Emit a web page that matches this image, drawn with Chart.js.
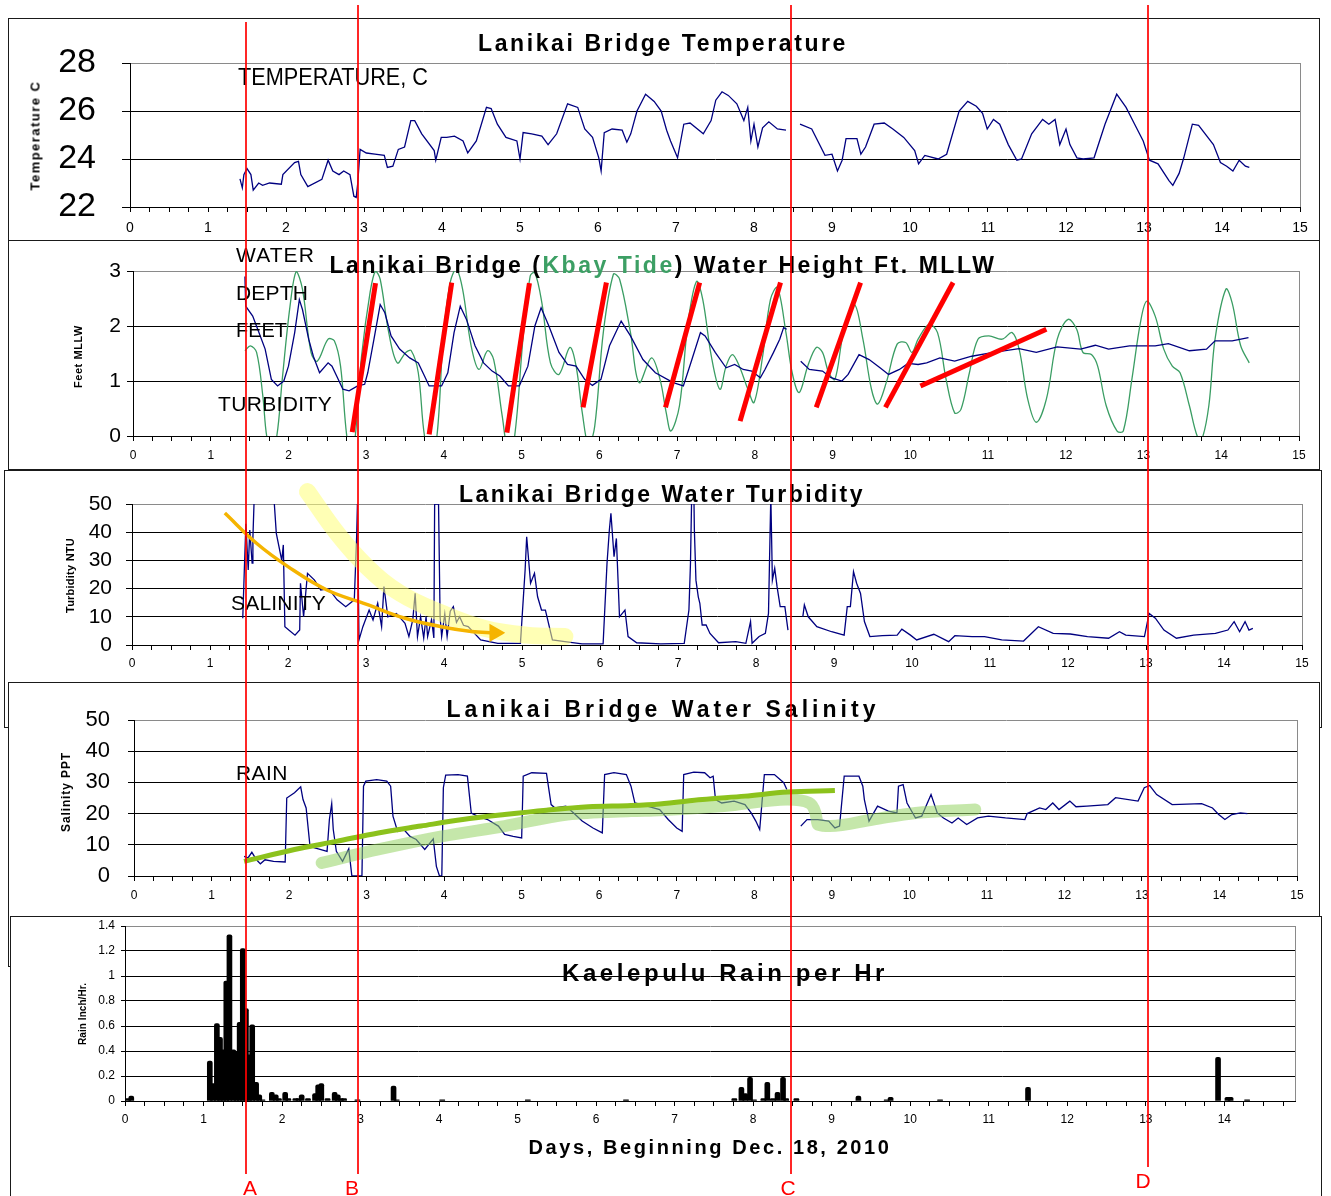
<!DOCTYPE html>
<html>
<head>
<meta charset="utf-8">
<title>Lanikai Bridge</title>
<script src="https://cdn.jsdelivr.net/npm/chart.js@4.4.1/dist/chart.umd.min.js"></script>
<style>
  html, body { margin: 0; padding: 0; background: #fff; }
  #page { position: relative; width: 1331px; height: 1196px; overflow: hidden; }
  .frame { position: absolute; border: 1px solid #1a1a1a; box-sizing: border-box; background: #fff; }
  canvas { position: absolute; left: 0; }
  .txt { position: absolute; white-space: nowrap; }
  .mark { position: absolute; width: 2px; background: rgba(255, 0, 0, 0.85); }
</style>
</head>
<body>
<div id="page"></div>
<script>
// ---- tick labels ----
const dayTicks = [0, 1, 2, 3, 4, 5, 6, 7, 8, 9, 10, 11, 12, 13, 14, 15];
const tempTicks = [22, 24, 26, 28];
const depthTicks = [0, 1, 2, 3];
const turbTicks = [0, 10, 20, 30, 40, 50];
const salTicks = [0, 10, 20, 30, 40, 50];
const rainTicks = [0, 0.2, 0.4, 0.6, 0.8, 1, 1.2, 1.4];

// ---- series: [day, value] ----
const tempSeries = [
  [1.41,23.17],[1.44,22.8],[1.46,23.35],[1.50,23.6],[1.55,23.35],[1.58,22.7],[1.65,23.0],[1.70,22.9],[1.79,23.0],[1.94,22.95],
  [1.96,23.35],[2.11,23.85],[2.16,23.9],[2.19,23.35],[2.28,22.85],[2.46,23.15],[2.54,23.95],[2.60,23.5],[2.68,23.35],[2.74,23.5],
  [2.82,23.35],[2.87,22.45],[2.90,22.4],[2.92,23.0],[2.95,24.4],[3.03,24.25],[3.14,24.2],[3.26,24.15],[3.30,23.65],[3.37,23.7],
  [3.44,24.4],[3.52,24.5],[3.60,25.6],[3.65,25.6],[3.74,25.05],[3.90,24.35],[3.92,23.95],[3.99,24.9],[4.06,24.9],[4.16,24.95],
  [4.27,24.75],[4.33,24.25],[4.44,24.75],[4.57,26.15],[4.63,26.1],[4.71,25.45],[4.82,24.9],[4.96,24.75],[5.00,24.0],[5.04,25.1],
  [5.15,25.05],[5.28,24.95],[5.36,24.6],[5.47,25.05],[5.61,26.3],[5.74,26.15],[5.83,25.25],[5.93,24.9],[6.01,24.05],[6.04,23.5],
  [6.08,25.1],[6.18,25.25],[6.31,25.2],[6.37,24.7],[6.42,25.05],[6.50,26.0],[6.61,26.7],[6.72,26.4],[6.81,26.0],
  [6.88,25.2],[6.93,24.75],[7.02,24.05],[7.06,24.75],[7.10,25.45],[7.18,25.5],[7.35,25.05],[7.45,25.6],[7.51,26.45],[7.59,26.8],
  [7.67,26.65],[7.78,26.3],[7.87,25.6],[7.92,26.15],[7.96,24.75],[8.00,25.45],[8.05,24.5],[8.11,25.3],[8.19,25.55],[8.30,25.25],
  [8.41,25.2],[8.50,null],[8.59,25.45],[8.74,25.25],[8.91,24.15],[9.00,24.2],[9.07,23.5],[9.13,23.95],[9.18,24.85],[9.32,24.85],
  [9.37,24.2],[9.43,24.5],[9.54,25.45],[9.67,25.5],[9.78,25.25],[9.92,24.9],[10.06,24.35],[10.11,23.8],[10.19,24.15],[10.36,24.0],
  [10.47,24.2],[10.63,26.0],[10.74,26.4],[10.85,26.2],[10.93,25.9],[10.99,25.25],[11.07,25.65],[11.15,25.45],[11.26,24.6],[11.37,23.95],
  [11.43,24.0],[11.56,25.05],[11.70,25.65],[11.78,25.45],[11.86,25.65],[11.92,24.6],[12.00,25.25],[12.05,24.6],[12.14,24.05],[12.22,24.0],
  [12.36,24.05],[12.50,25.45],[12.65,26.7],[12.77,26.15],[12.88,25.45],[12.99,24.75],[13.07,23.95],[13.18,23.8],[13.32,23.1],[13.37,22.9],
  [13.45,23.4],[13.51,24.05],[13.62,25.45],[13.70,25.4],[13.89,24.6],[13.98,23.85],[14.06,23.7],[14.14,23.5],[14.22,23.95],[14.30,23.7],[14.35,23.65]
];

const depthSeries = [
  [1.44,2.9],[1.45,2.36],[1.54,2.18],[1.62,1.88],[1.70,1.58],[1.78,1.03],[1.86,0.91],[1.94,1.0],[2.00,1.27],[2.08,1.88],
  [2.14,2.48],[2.18,2.30],[2.26,1.76],[2.32,1.45],[2.40,1.15],[2.51,1.33],[2.56,1.27],[2.62,1.09],[2.70,0.85],[2.78,0.82],
  [2.89,0.91],[2.98,0.94],[3.02,1.15],[3.10,1.76],[3.18,2.39],[3.24,2.24],[3.32,1.82],[3.43,1.58],[3.56,1.42],[3.67,1.33],
  [3.75,1.09],[3.81,0.91],[3.97,0.91],[4.05,1.15],[4.13,1.88],[4.21,2.36],[4.29,2.12],[4.40,1.64],[4.51,1.33],[4.62,1.18],
  [4.72,1.09],[4.83,0.91],[4.97,0.91],[5.08,1.27],[5.17,2.0],[5.25,2.33],[5.35,2.0],[5.48,1.52],[5.59,1.30],[5.70,1.27],
  [5.81,1.03],[5.91,0.92],[6.02,1.03],[6.13,1.64],[6.28,2.09],[6.40,1.82],[6.56,1.39],[6.72,1.15],[6.95,0.97],[7.08,0.91],
  [7.19,1.39],[7.30,1.88],[7.36,1.82],[7.49,1.52],[7.63,1.24],[7.74,1.30],[7.85,1.21],[7.96,1.18],[8.07,1.06],[8.13,1.21],
  [8.24,1.52],[8.32,1.76],[8.37,1.97],[8.41,1.94],[8.50,null],[8.59,1.36],[8.70,1.21],[8.87,1.18],[8.98,1.06],[9.12,1.0],
  [9.20,1.12],[9.34,1.48],[9.47,1.39],[9.61,1.24],[9.72,1.12],[9.86,1.21],[9.97,1.32],[10.10,1.30],[10.21,1.33],[10.38,1.42],
  [10.57,1.36],[10.79,1.45],[11.07,1.52],[11.40,1.59],[11.62,1.52],[11.89,1.62],[12.19,1.58],[12.38,1.65],[12.55,1.58],[12.82,1.64],
  [13.15,1.64],[13.32,1.68],[13.59,1.55],[13.81,1.58],[13.92,1.73],[14.14,1.73],[14.35,1.79]
];

const tideSeries = [
  [1.44,1.55],[1.51,1.64],[1.59,1.52],[1.67,0.73],[1.72,0.0],[1.78,-0.25],[1.85,0],[1.92,1.03],[2.02,2.36],[2.10,2.99],
  [2.18,2.67],[2.29,1.52],[2.37,1.36],[2.51,1.76],[2.59,1.73],[2.67,1.27],[2.75,0],[2.81,-0.3],[2.86,0],[2.94,1.45],
  [3.05,2.61],[3.12,3.0],[3.18,2.85],[3.29,1.88],[3.40,1.33],[3.51,1.52],[3.58,1.55],[3.67,1.15],[3.75,0],[3.83,-0.3],
  [3.91,0],[3.99,1.76],[4.08,2.79],[4.16,3.03],[4.24,2.67],[4.35,1.64],[4.45,1.21],[4.56,1.55],[4.64,1.39],[4.75,0.36],
  [4.83,-0.3],[4.91,0],[5.02,1.82],[5.11,2.91],[5.17,2.97],[5.26,2.42],[5.37,1.33],[5.48,1.12],[5.62,1.61],[5.70,1.27],
  [5.78,0.42],[5.86,-0.18],[5.94,0.18],[6.05,1.88],[6.18,2.94],[6.26,2.85],[6.40,1.88],[6.51,0.97],[6.67,1.42],[6.78,1.03],
  [6.86,0.42],[6.92,0.09],[7.03,0.55],[7.14,2.06],[7.25,2.81],[7.33,2.48],[7.44,1.45],[7.55,0.85],[7.63,1.27],[7.71,1.48],
  [7.80,1.27],[7.91,0.85],[7.99,0.61],[8.10,1.45],[8.20,2.48],[8.29,2.70],[8.40,1.88],[8.48,1.15],[8.57,0.79],[8.68,1.27],
  [8.79,1.61],[8.87,1.52],[8.95,1.15],[9.03,1.03],[9.14,1.88],[9.28,2.39],[9.39,1.76],[9.50,0.85],[9.58,0.58],[9.69,0.97],
  [9.83,1.67],[9.94,1.70],[10.02,1.52],[10.10,1.76],[10.24,2.03],[10.35,1.88],[10.46,1.03],[10.57,0.42],[10.65,0.48],[10.76,1.15],
  [10.87,1.76],[11.01,1.82],[11.18,1.76],[11.31,1.88],[11.40,1.58],[11.51,0.67],[11.62,0.25],[11.75,0.67],[11.89,1.76],[12.03,2.12],
  [12.14,1.94],[12.22,1.52],[12.33,1.48],[12.41,1.27],[12.52,0.55],[12.66,0.09],[12.74,0.09],[12.85,1.03],[12.96,2.06],[13.04,2.45],
  [13.15,2.18],[13.26,1.58],[13.37,1.27],[13.47,1.15],[13.59,0.55],[13.69,0],[13.75,-0.06],[13.84,0.55],[13.92,1.76],[14.06,2.67],
  [14.14,2.42],[14.25,1.64],[14.36,1.33]
];

const turbSeries = [
  [1.42,9.5],[1.44,26.6],[1.46,43],[1.49,26.6],[1.51,40.8],[1.54,29],[1.55,38],[1.57,55],[1.70,75],[1.82,52],
  [1.85,39.6],[1.92,30],[1.94,35.5],[1.96,6.5],[2.01,5.3],[2.09,3.5],[2.15,5.3],[2.16,21.9],[2.20,10],[2.25,25.4],
  [2.34,23],[2.42,19.5],[2.52,20],[2.63,16],[2.74,13.6],[2.85,16],[2.88,38.4],[2.89,50],[2.91,1.8],[2.96,6.5],
  [3.04,12.4],[3.09,8.9],[3.15,14.8],[3.20,6.5],[3.23,20.7],[3.28,10],[3.39,11.2],[3.50,7.7],[3.55,3],[3.60,9],
  [3.63,18.3],[3.66,3],[3.70,10],[3.74,2.5],[3.77,10],[3.79,3],[3.84,9],[3.87,2.5],[3.88,50],[3.93,50],
  [3.95,10],[3.97,3],[4.01,11],[4.04,3],[4.08,12],[4.12,13.6],[4.16,8],[4.20,10],[4.25,7],[4.31,6.5],
  [4.47,1.8],[4.69,0.6],[4.98,0.6],[5.04,26.6],[5.06,38.4],[5.11,21.9],[5.16,25.4],[5.20,17.1],[5.25,12.4],[5.30,12.4],
  [5.39,1.8],[5.55,1.2],[5.77,0.4],[6.04,0.4],[6.09,29],[6.12,40.8],[6.14,46.7],[6.18,31.3],[6.21,37.8],[6.25,10],
  [6.32,12.4],[6.36,3],[6.47,0.8],[6.78,0.4],[7.08,0.6],[7.14,12.4],[7.16,29],[7.18,60],[7.20,60],[7.21,40.8],
  [7.23,23],[7.26,17.1],[7.28,14.8],[7.31,7.1],[7.36,7.1],[7.41,4.1],[7.52,0.8],[7.74,1.2],[7.87,0.6],[7.93,8.3],
  [7.95,0.6],[8.04,3],[8.12,4.1],[8.16,11.2],[8.19,53],[8.21,23],[8.24,27.2],[8.27,20.7],[8.31,13.6],[8.37,13.6],
  [8.41,5.3],[8.50,null],[8.60,10],[8.62,14.2],[8.67,10],[8.78,6.5],[8.97,4.7],[9.13,3.5],[9.17,13.6],[9.21,13.6],
  [9.25,26],[9.29,21.9],[9.34,18.3],[9.39,8.3],[9.46,3],[9.62,3.3],[9.81,3.5],[9.87,5.6],[9.98,3.5],[10.06,1.8],
  [10.28,3.8],[10.47,1.2],[10.55,3.3],[10.77,3],[10.93,3],[11.15,1.8],[11.43,1.4],[11.62,6.5],[11.81,4.1],[12.03,3.9],
  [12.25,3],[12.52,2.4],[12.66,4.7],[12.74,3.5],[12.98,3],[13.04,11.2],[13.12,9.5],[13.23,5.3],[13.39,2.4],[13.61,3.5],
  [13.89,4.1],[14.05,5.3],[14.13,8.3],[14.20,4.7],[14.27,8.3],[14.32,5.3],[14.37,5.9]
];

const salSeries = [
  [1.42,6.3],[1.47,5.8],[1.52,7.6],[1.58,5.2],[1.63,3.9],[1.69,5.2],[1.80,4.7],[1.95,4.5],[1.97,25],[2.07,26.7],
  [2.15,28.6],[2.18,24.5],[2.22,21.8],[2.27,9.5],[2.33,9],[2.40,8.5],[2.49,7.9],[2.52,18.1],[2.55,23.2],[2.57,14.9],
  [2.61,7.9],[2.69,4.7],[2.77,8.7],[2.81,0],[2.88,0],[2.94,0],[2.96,28.8],[2.99,30.4],[3.13,30.9],[3.26,30.4],
  [3.31,28.8],[3.34,19.2],[3.40,14.3],[3.48,14.9],[3.56,12.7],[3.64,11.7],[3.75,8.5],[3.86,11.9],[3.90,3.1],[3.94,0],
  [3.97,0],[3.99,28.3],[4.02,32.3],[4.18,32.5],[4.30,32],[4.35,20.2],[4.43,19.2],[4.56,18.1],[4.70,16],[4.78,13.3],
  [4.89,12.7],[5.00,12.2],[5.02,32],[5.13,33.1],[5.32,32.9],[5.38,22.9],[5.43,21.8],[5.57,22.4],[5.67,20.2],[5.78,17.6],
  [5.92,15.4],[6.04,13.8],[6.07,32.5],[6.19,33.1],[6.35,32.5],[6.41,28.8],[6.46,23.4],[6.62,22.4],[6.78,21.3],[6.89,18.1],
  [7.00,15.4],[7.07,14.3],[7.09,32.5],[7.22,33.3],[7.36,33.1],[7.43,31.5],[7.47,32],[7.50,24.5],[7.58,23.4],[7.74,24],
  [7.88,22.9],[7.96,20.2],[8.02,17.6],[8.07,14.9],[8.13,32.5],[8.26,32.5],[8.38,29.9],[8.42,27.7],[8.50,null],[8.60,16],
  [8.68,18.1],[8.82,18.1],[8.96,17.6],[9.04,15.4],[9.10,16],[9.16,32],[9.35,32],[9.40,28.8],[9.42,24.5],[9.48,17.6],
  [9.59,22.4],[9.73,20.8],[9.84,20.2],[9.86,28.8],[9.92,29.3],[9.97,23.4],[10.08,18.6],[10.16,19.2],[10.28,26.1],[10.36,20.2],
  [10.44,18.6],[10.55,17],[10.63,18.6],[10.74,16.5],[10.88,18.6],[11.02,19.2],[11.24,18.6],[11.49,18.1],[11.52,20],[11.68,21.8],
  [11.76,21.3],[11.85,23.4],[11.93,21.3],[12.07,24],[12.15,22.2],[12.29,22.4],[12.56,22.9],[12.66,25.1],[12.95,24],[13.03,28.3],
  [13.10,29],[13.19,26.1],[13.39,22.9],[13.77,23.2],[13.91,21.8],[13.99,19.7],[14.07,18.1],[14.16,19.7],[14.27,20.2],[14.36,20]
];

const rainSeries = [
  [0.04,0.02],[0.08,0.04],[1.08,0.32],[1.12,0.14],[1.17,0.62],[1.21,0.51],[1.25,0.41],[1.29,0.96],[1.33,1.33],[1.38,0.41],
  [1.42,0.39],[1.46,0.63],[1.50,1.22],[1.54,0.74],[1.58,0.37],[1.62,0.61],[1.67,0.15],[1.71,0.05],[1.75,0.01],[1.87,0.07],
  [1.92,0.05],[1.96,0.02],[2.04,0.07],[2.08,0.02],[2.17,0.02],[2.21,0.02],[2.25,0.05],[2.33,0.02],[2.42,0.06],[2.46,0.13],
  [2.50,0.14],[2.58,0.02],[2.67,0.07],[2.71,0.05],[2.75,0.02],[2.79,0.02],[2.96,0.01],[3.42,0.12],[3.46,0.01],[4.04,0.01],
  [5.13,0.01],[6.38,0.01],[7.76,0.02],[7.85,0.11],[7.90,0.06],[7.96,0.19],[8.01,0.01],[8.13,0.02],[8.18,0.15],[8.25,0.02],
  [8.31,0.07],[8.38,0.19],[8.42,0.02],[8.55,0.02],[9.34,0.04],[9.70,0.01],[9.75,0.03],[10.38,0.01],[11.50,0.11],[13.92,0.35],
  [14.04,0.03],[14.08,0.03],[14.29,0.01]
];

// ---- hand-drawn overlays, in data units ----
const tideSlashes = [
  [[2.82,0.07],[3.12,2.78]], [[3.81,0.03],[4.10,2.79]], [[4.81,0.06],[5.10,2.78]],
  [[5.79,0.52],[6.09,2.79]], [[6.85,0.52],[7.29,2.79]], [[7.81,0.27],[8.33,2.79]],
  [[8.79,0.52],[9.36,2.79]], [[9.68,0.52],[10.55,2.79]], [[10.13,0.91],[11.75,1.94]]
];
const turbArrow = [[1.19,46.8],[1.6,36],[2.0,27.8],[2.5,19.5],[3.0,14.5],[3.5,9.5],[4.0,6.3],[4.35,4.8],[4.65,4.3]];
const turbBand = [[2.25,54.4],[2.63,39.6],[3.01,27.8],[3.44,18.3],[3.98,11.2],[4.52,5.9],[5.06,3.5],[5.55,3]];
const salTrend = [[1.42,4.7],[2.07,8.5],[2.61,11.1],[3.15,13.8],[3.70,16],[4.24,18.1],[4.78,19.7],[5.32,21.1],
  [5.86,22.2],[6.41,22.6],[6.78,23.1],[7.33,24.5],[7.88,25.6],[8.43,26.9],[9.04,27.4]];
const salBand = [[2.42,4.2],[3.15,8.5],[3.97,12.7],[4.78,16],[5.59,19.7],[6.41,20.8],[6.78,21.1],[7.61,22.4],
  [8.43,24.5],[8.71,23.4],[8.79,20.2],[8.82,16.5],[8.98,16],[9.53,18.1],[10.08,20.2],[10.85,21.3]];
const markerDays = { A: 1.475, B: 2.91, C: 8.46, D: 13.04 };

const FONT = '"Liberation Sans", Arial, sans-serif';
const NARROW = '"Liberation Sans Narrow", "Liberation Sans", Arial, sans-serif';
const W = 1331;
const page = document.getElementById('page');
Chart.defaults.font.family = FONT;
Chart.defaults.color = '#000';

const pts = arr => arr.map(([x, y]) => ({ x, y }));
const NAVY = '#000080';

// frames
[[8,18,1312,223],[8,240,1312,230],[4,470,1318,258],[8,682,1312,285],[10,916,1312,290]].forEach(([l,t,w,h]) => {
  const f = document.createElement('div');
  f.className = 'frame';
  f.style.cssText = `left:${l}px;top:${t}px;width:${w}px;height:${h}px;`;
  page.appendChild(f);
});

const plotEdge = {
  id: 'plotEdge',
  beforeDatasetsDraw(chart) {
    const a = chart.chartArea, c = chart.ctx;
    const x = Math.round(a.right) + 0.5;
    c.save();
    c.strokeStyle = '#8a8a8a';
    c.lineWidth = 1;
    c.beginPath(); c.moveTo(x, a.top); c.lineTo(x, a.bottom); c.stroke();
    c.restore();
  }
};

function makePanel(p) {
  const cv = document.createElement('canvas');
  cv.width = W; cv.height = p.h;
  cv.style.top = p.top + 'px';
  cv.style.width = W + 'px'; cv.style.height = p.h + 'px';
  page.appendChild(cv);
  const yt = p.yTicks, yMax = yt[yt.length - 1];
  return new Chart(cv, {
    type: p.type || 'line',
    data: { datasets: p.datasets },
    options: {
      responsive: false,
      animation: false,
      events: [],
      layout: { padding: { top: p.plot.top - p.top, right: W - p.plot.right, bottom: 0, left: 0 } },
      plugins: { legend: { display: false }, tooltip: { enabled: false }, title: { display: false } },
      elements: { point: { radius: 0 } },
      scales: {
        x: {
          type: 'linear', min: 0, max: p.xMax, offset: false,
          afterFit: s => { s.height = p.top + p.h - p.plot.bottom; s.paddingLeft = 0; s.paddingRight = 0; },
          afterBuildTicks: s => {
            const t = [];
            for (let i = 0; i * 0.25 <= p.xMax + 1e-9; i++) t.push({ value: i * 0.25 });
            s.ticks = t;
          },
          ticks: {
            autoSkip: false, maxRotation: 0, minRotation: 0, padding: p.xPad, color: '#000',
            font: { family: FONT, size: p.xFont },
            callback: v => dayTicks.includes(v) ? String(v) : ''
          },
          grid: { drawOnChartArea: false, offset: false, tickLength: 5, tickColor: '#000', color: '#000' },
          border: { color: '#000', width: 1 }
        },
        y: {
          min: yt[0], max: yMax,
          afterFit: s => { s.width = p.plot.left; s.paddingTop = 0; s.paddingBottom = 0; },
          afterBuildTicks: s => { s.ticks = yt.map(v => ({ value: v })); },
          ticks: {
            padding: p.yPad, color: '#000', font: { family: FONT, size: p.yFont },
            callback: v => String(Math.round(v * 10) / 10)
          },
          grid: {
            color: c => (c.tick && c.tick.value === yMax) ? '#8a8a8a' : '#000',
            tickLength: p.yTick || 6, tickColor: '#000'
          },
          border: { color: '#000', width: 1 }
        }
      }
    },
    plugins: [plotEdge]
  });
}

const lineStyle = { borderWidth: 1.3, pointRadius: 0, tension: 0, spanGaps: false };

const tempChart = makePanel({
  top: 18, h: 222, plot: { left: 130, right: 1300, top: 63, bottom: 207 },
  yTicks: tempTicks, yFont: 34, yPad: 26, yTick: 8, xMax: 15, xFont: 14, xPad: 8,
  datasets: [{ ...lineStyle, data: pts(tempSeries), borderColor: NAVY }]
});

makePanel({
  top: 240, h: 228, plot: { left: 133, right: 1299, top: 271, bottom: 436 },
  yTicks: depthTicks, yFont: 21, yPad: 6, xMax: 15, xFont: 12, xPad: 7,
  datasets: [
    ...tideSlashes.map(s => ({ data: pts(s), borderColor: '#ff0000', borderWidth: 5, pointRadius: 0, order: 0, clip: false })),
    { ...lineStyle, data: pts(depthSeries), borderColor: NAVY, order: 1 },
    { ...lineStyle, data: pts(tideSeries), borderColor: '#3a9d63', tension: 0.35, order: 2 }
  ]
});

makePanel({
  top: 470, h: 210, plot: { left: 132, right: 1302, top: 504, bottom: 645 },
  yTicks: turbTicks, yFont: 21, yPad: 14, xMax: 15, xFont: 12, xPad: 6,
  datasets: [
    { data: pts(turbArrow), borderColor: '#f5b400', borderWidth: 3.5, tension: 0.4, order: 0, clip: false,
      pointRadius: turbArrow.map((_, i) => i === turbArrow.length - 1 ? 7 : 0),
      pointStyle: 'triangle', rotation: 90, pointBackgroundColor: '#f5b400', pointBorderColor: '#f5b400' },
    { data: pts(turbBand), borderColor: 'rgba(255,255,120,0.55)', borderWidth: 17, tension: 0.4,
      borderCapStyle: 'round', pointRadius: 0, order: 1, clip: false },
    { ...lineStyle, data: pts(turbSeries), borderColor: NAVY, order: 2 }
  ]
});

makePanel({
  top: 682, h: 228, plot: { left: 134, right: 1297, top: 720, bottom: 876 },
  yTicks: salTicks, yFont: 22, yPad: 18, xMax: 15, xFont: 12, xPad: 7,
  datasets: [
    { data: pts(salTrend), borderColor: '#8cc21c', borderWidth: 5, cubicInterpolationMode: 'monotone', pointRadius: 0, order: 0 },
    { data: pts(salBand), borderColor: 'rgba(150,212,100,0.55)', borderWidth: 12, cubicInterpolationMode: 'monotone',
      borderCapStyle: 'round', borderJoinStyle: 'round', pointRadius: 0, order: 1 },
    { ...lineStyle, data: pts(salSeries), borderColor: NAVY, order: 2 }
  ]
});

makePanel({
  type: 'bar',
  top: 915, h: 281, plot: { left: 125, right: 1295, top: 926, bottom: 1101 },
  yTicks: rainTicks, yFont: 12, yPad: 6, yTick: 4, xMax: 14.9, xFont: 12, xPad: 6,
  datasets: [{ data: pts(rainSeries), backgroundColor: '#000', barThickness: 5, borderRadius: 2, borderSkipped: 'bottom' }]
});

// ---- text ----
function addText(html, o) {
  const d = document.createElement('div');
  d.className = 'txt';
  d.innerHTML = html;
  d.style.font = (o.bold ? 'bold ' : '') + o.size + 'px ' + (o.family || FONT);
  d.style.lineHeight = o.size + 'px';
  d.style.color = o.color || '#000';
  d.style.zIndex = 5;
  page.appendChild(d);
  const nat = d.getBoundingClientRect().width;
  let boxW = nat, sx = 1;
  if (o.w) {
    if (o.w >= nat) { d.style.letterSpacing = ((o.w - nat) / d.textContent.length) + 'px'; boxW = o.w; }
    else sx = o.w / nat;
  }
  d.style.top = (o.cy - o.size / 2) + 'px';
  if (o.rot) {
    d.style.left = (o.cx - boxW / 2) + 'px';
    d.style.transformOrigin = '50% 50%';
    d.style.transform = 'rotate(-90deg) scaleX(' + sx + ')';
  } else {
    d.style.left = (o.cx !== undefined ? o.cx - (o.w || nat) / 2 : o.x) + 'px';
    d.style.transformOrigin = '0 50%';
    if (sx !== 1) d.style.transform = 'scaleX(' + sx + ')';
  }
}

addText('Lanikai Bridge Temperature', { bold: true, size: 23, cx: 663, cy: 43, w: 370 });
addText('Lanikai Bridge (<span style="color:#3c9f64">Kbay Tide</span>) Water Height Ft. MLLW', { bold: true, size: 23, cx: 663, cy: 265, w: 667 });
addText('Lanikai Bridge Water Turbidity', { bold: true, size: 23, cx: 662, cy: 494, w: 406 });
addText('Lanikai Bridge Water Salinity', { bold: true, size: 23, cx: 663, cy: 709, w: 433 });
addText('Kaelepulu Rain per Hr', { bold: true, size: 24, cx: 725, cy: 973, w: 326 });
addText('Days, Beginning Dec. 18, 2010', { bold: true, size: 20, cx: 710, cy: 1147, w: 363 });

addText('Temperature C', { bold: true, size: 13, cx: 35, cy: 135, w: 110, rot: true });
addText('Feet MLLW', { bold: true, size: 11, cx: 78, cy: 356, w: 63, rot: true });
addText('Turbidity NTU', { bold: true, size: 11, cx: 70, cy: 575, w: 75, rot: true });
addText('Salinity PPT', { bold: true, size: 12, cx: 66, cy: 792, w: 80, rot: true });
addText('Rain Inch/Hr.', { bold: true, size: 10, cx: 83, cy: 1014, w: 62, rot: true });

addText('TEMPERATURE, C', { size: 23, family: NARROW, x: 238, cy: 77, w: 190 });
addText('WATER', { size: 21, family: NARROW, x: 236, cy: 254, w: 79 });
addText('DEPTH', { size: 21, family: NARROW, x: 236, cy: 292, w: 72 });
addText('FEET', { size: 21, family: NARROW, x: 236, cy: 329, w: 51 });
addText('TURBIDITY', { size: 21, family: NARROW, x: 218, cy: 403, w: 114 });
addText('SALINITY', { size: 21, family: NARROW, x: 231, cy: 602, w: 95 });
addText('RAIN', { size: 21, family: NARROW, x: 236, cy: 772, w: 52 });

// ---- red marker lines A-D (placed on the temperature day scale) ----
const markerSpans = { A: [22, 1174, 5], B: [5, 1174, -5], C: [5, 1174, -2], D: [5, 1167, -4] };
const markerLabelY = { A: 1187, B: 1187, C: 1187, D: 1180 };
Object.keys(markerDays).forEach(k => {
  const x = Math.round(tempChart.scales.x.getPixelForValue(markerDays[k]));
  const [t, b, off] = markerSpans[k];
  const m = document.createElement('div');
  m.className = 'mark';
  m.style.cssText = `left:${x}px;top:${t}px;height:${b - t}px;z-index:10;`;
  page.appendChild(m);
  addText(k, { size: 21, color: '#ff0000', cx: x + off, cy: markerLabelY[k] });
});
</script>
</body>
</html>
